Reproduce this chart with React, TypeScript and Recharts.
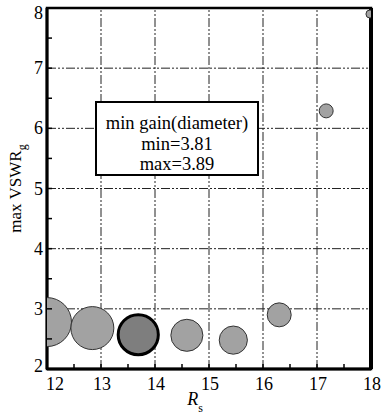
import React from 'react';
import { ScatterChart, Scatter, XAxis, YAxis, ZAxis, ReferenceLine, ReferenceArea, Cell } from 'recharts';

// R_s position, max VSWR_g and min gain (bubble diameter)
const rsValues = [12.0, 12.84, 13.69, 14.59, 15.45, 16.3, 17.17, 17.98];
const vswrValues = [2.78, 2.68, 2.57, 2.56, 2.48, 2.9, 6.29, 7.9];
const gainValues = [3.89, 3.871, 3.863, 3.843, 3.835, 3.8275, 3.8145, 3.81];

const xTicks = [12, 12.5, 13, 13.5, 14, 14.5, 15, 15.5, 16, 16.5, 17, 17.5, 18];
const yTicks = [2, 2.5, 3, 3.5, 4, 4.5, 5, 5.5, 6, 6.5, 7, 7.5, 8];
const xGrid = [13, 14, 15, 16, 17];
const yGrid = [3, 4, 5, 6, 7];

const boxLines = ['min gain(diameter)', 'min=3.81', 'max=3.89'];
const highlightIndex = 2;

const data = rsValues.map((rs, i) => ({ rs, vswr: vswrValues[i], gain: gainValues[i] }));

const FONT = '"Liberation Serif", "Times New Roman", serif';

const XTick = ({ x, y, payload }: any) => {
    const major = Number.isInteger(payload.value);
    // first label starts at the axis instead of centring on it
    const dx = payload.value === 12 ? 8 : 1;
    return (
        <g>
            <line x1={x} x2={x} y1={y} y2={y - 5} stroke="#000" strokeWidth={1.5} />
            {major && (
                <text x={x + dx} y={y + 21} textAnchor="middle" fontSize={18} fontFamily={FONT} fill="#000">
                    {payload.value}
                </text>
            )}
        </g>
    );
};

const YTick = ({ x, y, payload }: any) => {
    const major = Number.isInteger(payload.value);
    // end labels are nudged inwards like in the figure
    const dy = payload.value === 8 ? 11 : payload.value === 2 ? 3 : 6;
    return (
        <g>
            <line x1={x} x2={x + 5} y1={y} y2={y} stroke="#000" strokeWidth={1.5} />
            {major && (
                <text x={x - 4} y={y + dy} textAnchor="end" fontSize={18} fontFamily={FONT} fill="#000">
                    {payload.value}
                </text>
            )}
        </g>
    );
};

const YLabel = ({ viewBox }: any) => {
    const cx = 15;
    const cy = viewBox.y + viewBox.height / 2;
    return (
        <text
            x={cx}
            y={cy}
            transform={`rotate(-90, ${cx}, ${cy})`}
            textAnchor="middle"
            dominantBaseline="central"
            fontSize={17}
            fontFamily={FONT}
            fill="#000"
        >
            max VSWR
            <tspan baselineShift="sub" fontSize={12}>g</tspan>
        </text>
    );
};

const XLabel = ({ viewBox }: any) => {
    const cx = viewBox.x + viewBox.width / 2 - 14;
    return (
        <text x={cx} y={405} textAnchor="middle" fontSize={18} fontFamily={FONT} fill="#000">
            <tspan fontStyle="italic">R</tspan>
            <tspan baselineShift="sub" fontSize={12}>s</tspan>
        </text>
    );
};

export default function App() {
    return (
        <div style={{ position: 'absolute', left: 0, top: 0, width: 382, height: 416, background: '#fff' }}>
            <ScatterChart width={382} height={416} margin={{ top: 8, right: 11, left: 0, bottom: 0 }}>
                <XAxis
                    type="number"
                    dataKey="rs"
                    domain={[12, 18]}
                    allowDataOverflow
                    ticks={xTicks}
                    interval={0}
                    tick={<XTick />}
                    tickSize={0}
                    tickMargin={0}
                    tickLine={false}
                    height={47}
                    axisLine={{ stroke: '#000', strokeWidth: 3 }}
                    label={<XLabel />}
                />
                <YAxis
                    type="number"
                    dataKey="vswr"
                    domain={[2, 8]}
                    allowDataOverflow
                    ticks={yTicks}
                    interval={0}
                    tick={<YTick />}
                    tickSize={0}
                    tickMargin={0}
                    tickLine={false}
                    width={47}
                    axisLine={{ stroke: '#000', strokeWidth: 3 }}
                    label={<YLabel />}
                />
                <ZAxis type="number" dataKey="gain" domain={[3.81, 3.89]} range={[50, 1886]} />
                {xGrid.map((v) => (
                    <ReferenceLine key={`x${v}`} x={v} stroke="#222" strokeWidth={1} strokeDasharray="9 2 2 2 2 2" />
                ))}
                {yGrid.map((v) => (
                    <ReferenceLine key={`y${v}`} y={v} stroke="#222" strokeWidth={1} strokeDasharray="9 2 2 2 2 2" />
                ))}
                <Scatter data={data} isAnimationActive={false}>
                    {data.map((_, i) => (
                        <Cell
                            key={i}
                            fill={i === highlightIndex ? '#7e7e7e' : '#a2a2a2'}
                            stroke={i === highlightIndex ? '#000' : '#333'}
                            strokeWidth={i === highlightIndex ? 3 : 1}
                        />
                    ))}
                </Scatter>
                <ReferenceArea x1={12} x2={18} y1={2} y2={8} fill="none" stroke="#000" strokeWidth={2.5} />
                <ReferenceLine x={18} stroke="#000" strokeWidth={4} />
            </ScatterChart>
            <div
                style={{
                    position: 'absolute',
                    left: 95,
                    top: 101,
                    width: 164,
                    height: 75,
                    border: '2px solid #000',
                    background: '#fff',
                    fontFamily: FONT,
                    fontSize: 18.5,
                    lineHeight: '20.5px',
                    textAlign: 'center',
                    paddingTop: 10,
                    boxSizing: 'border-box',
                    color: '#000',
                }}
            >
                {boxLines.map((t) => (
                    <div key={t}>{t}</div>
                ))}
            </div>
        </div>
    );
}
